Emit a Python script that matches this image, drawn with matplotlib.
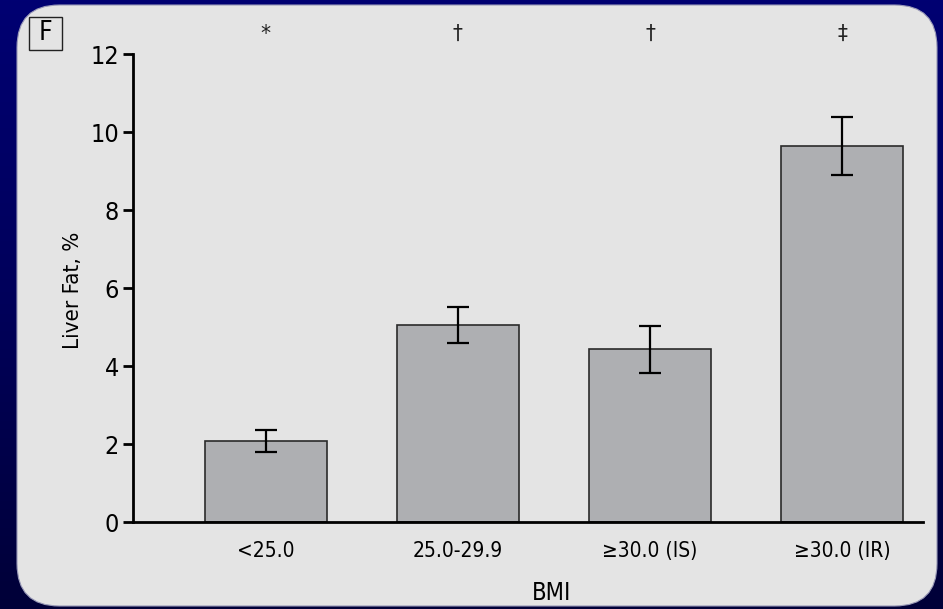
import numpy as np
import matplotlib
matplotlib.use("Agg")
import matplotlib.pyplot as plt
from matplotlib.patches import FancyBboxPatch, Rectangle

plt.rcParams['font.family'] = ['DejaVu Sans']
plt.rcParams['font.stretch'] = 'condensed'

categories = ['<25.0', '25.0-29.9', '\u226530.0 (IS)', '\u226530.0 (IR)']
liver_fat = [2.08, 5.05, 4.43, 9.65]
liver_fat_err = [0.28, 0.46, 0.60, 0.74]
significance = ['*', '\u2020', '\u2020', '\u2021']

W, H = 943, 609
fig = plt.figure(figsize=(W / 100, H / 100), dpi=100)

# navy backdrop with a soft vertical fade
bg = fig.add_axes([0, 0, 1, 1])
grad = np.linspace(0, 1, 256)[:, None] * np.ones((1, 2))
bg.imshow(grad, aspect='auto', extent=(0, 1, 0, 1), origin='upper',
          cmap=matplotlib.colors.LinearSegmentedColormap.from_list(
              'navy', ['#000072', '#00005a', '#000038']))
bg.set_xlim(0, 1)
bg.set_ylim(0, 1)
bg.axis('off')

# rounded light panel
px0, py0, px1, py1 = 17, 5, 937, 606
panel = FancyBboxPatch((px0 / W, 1 - py1 / H), (px1 - px0) / W, (py1 - py0) / H,
                       boxstyle='round,pad=0,rounding_size=0.045',
                       mutation_aspect=W / H,
                       transform=fig.transFigure, facecolor='#e4e4e4',
                       edgecolor='#9a9ab8', linewidth=0.8, zorder=1)
bg.add_patch(panel)

ax = fig.add_axes([133 / W, 1 - 522 / H, (923 - 133) / W, (522 - 54) / H])
ax.patch.set_alpha(0)
x = np.arange(len(categories))
ax.bar(x, liver_fat, width=0.635, color='#aeafb2', edgecolor='#2a2a2a',
       linewidth=1.2, zorder=2)
ax.errorbar(x, liver_fat, yerr=liver_fat_err, fmt='none', ecolor='black',
            elinewidth=1.6, capsize=8, capthick=1.6, zorder=3)

ax.set_xlim(-0.69, 3.42)
ax.set_ylim(0, 12)
ax.set_yticks([0, 2, 4, 6, 8, 10, 12])
ax.set_xticks(x)
ax.set_xticklabels(categories)
for s in ['top', 'right']:
    ax.spines[s].set_visible(False)
ax.spines['left'].set_linewidth(2)
ax.spines['bottom'].set_linewidth(2)
ax.tick_params(axis='y', length=7, width=2, pad=3, labelsize=18)
ax.tick_params(axis='x', length=0, pad=14, labelsize=15)

for xi, mark in zip(x, significance):
    ax.text(xi, 1.0 + 20 / (522 - 54), mark, transform=ax.get_xaxis_transform(),
            ha='center', va='center', fontsize=16, color='#222222')

fig.text(73 / W, 1 - 290 / H, 'Liver Fat, %', rotation=90, ha='center',
         va='center', fontsize=16)
fig.text(552 / W, 1 - 593 / H, 'BMI', ha='center', va='center', fontsize=17)

# panel letter in a small box
bg.add_patch(Rectangle((29 / W, 1 - 50 / H), 33 / W, 33 / H,
                       transform=fig.transFigure, facecolor='none',
                       edgecolor='#222222', linewidth=1, zorder=4))
fig.text(45.5 / W, 1 - 33.5 / H, 'F', ha='center', va='center', fontsize=19)

fig.savefig('out.png', dpi=100)
